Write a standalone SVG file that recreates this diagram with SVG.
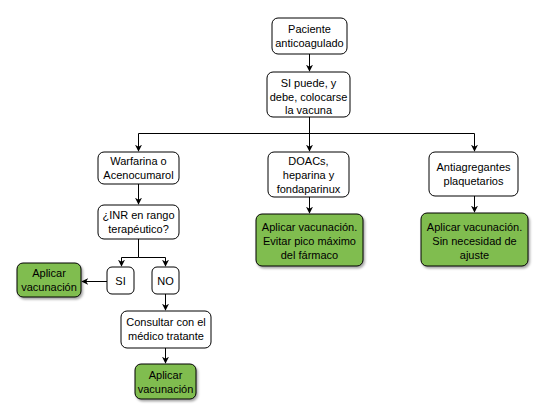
<svg xmlns="http://www.w3.org/2000/svg" width="555" height="407" viewBox="0 0 555 407">
<defs>
<marker id="ah" viewBox="0 0 10 10" refX="9" refY="5" markerWidth="7" markerHeight="7" markerUnits="userSpaceOnUse" orient="auto"><path d="M0,0 L10,5 L0,10 L3,5 Z" fill="#000"/></marker>
<filter id="sh" x="-10%" y="-10%" width="130%" height="140%"><feDropShadow dx="1.5" dy="2" stdDeviation="1" flood-color="#000" flood-opacity="0.35"/></filter>
</defs>
<style>
.n rect{fill:#fff;stroke:#000;stroke-width:1}
.g rect{fill:#80bd4f;stroke:#000;stroke-width:1;filter:url(#sh)}
text{font-family:"Liberation Sans",Arial,sans-serif;font-size:11px;fill:#000;text-anchor:middle}
.c path{fill:none;stroke:#000;stroke-width:1;marker-end:url(#ah)}
</style>
<rect width="555" height="407" fill="#fff"/>
<g class="c" id="connectors">
<path d="M309.5,54 V71"/>
<path d="M309.5,117 V151"/>
<path d="M309.5,133.5 H138.5 V151"/>
<path d="M309.5,133.5 H474.5 V151"/>
<path d="M138.5,184 V204"/>
<path d="M309.5,197 V213"/>
<path d="M474.5,196 V212"/>
<path d="M138.5,239 V257.5 H121.5 V266"/>
<path d="M138.5,257.5 H165.5 V266"/>
<path d="M107,281.5 H82"/>
<path d="M165.5,294 V310"/>
<path d="M165.5,348 V363"/>
</g>
<g id="n1" class="n"><rect x="272" y="18" width="75" height="36" rx="6"/><text x="309.5" y="33">Paciente</text><text x="309.5" y="47">anticoagulado</text></g>
<g id="n2" class="n"><rect x="267" y="72" width="83" height="45" rx="6"/><text x="308.5" y="87">SI puede, y</text><text x="308.5" y="101">debe, colocarse</text><text x="308.5" y="114">la vacuna</text></g>
<g id="n3" class="n"><rect x="98" y="152" width="81" height="32" rx="6"/><text x="138.5" y="165">Warfarina o</text><text x="138.5" y="179">Acenocumarol</text></g>
<g id="n4" class="n"><rect x="268" y="152" width="81" height="45" rx="6"/><text x="308.5" y="165">DOACs,</text><text x="308.5" y="179">heparina y</text><text x="308.5" y="193">fondaparinux</text></g>
<g id="n5" class="n"><rect x="429" y="152" width="89" height="44" rx="6"/><text x="473.5" y="171">Antiagregantes</text><text x="473.5" y="185">plaquetarios</text></g>
<g id="n6" class="n"><rect x="98" y="205" width="81" height="34" rx="6"/><text x="138.5" y="219">¿INR en rango</text><text x="138.5" y="233">terapéutico?</text></g>
<g id="n7" class="g"><rect x="256" y="214" width="107" height="52" rx="6"/><text x="309.5" y="231">Aplicar vacunación.</text><text x="309.5" y="245">Evitar pico máximo</text><text x="309.5" y="259">del fármaco</text></g>
<g id="n8" class="g"><rect x="421" y="213" width="107" height="53" rx="6"/><text x="474.5" y="231">Aplicar vacunación.</text><text x="474.5" y="245">Sin necesidad de</text><text x="474.5" y="259">ajuste</text></g>
<g id="n9" class="n"><rect x="107" y="267" width="27" height="27" rx="5"/><text x="120.5" y="285">SI</text></g>
<g id="n10" class="n"><rect x="152" y="267" width="27" height="27" rx="5"/><text x="165.5" y="285">NO</text></g>
<g id="n11" class="g"><rect x="17" y="263" width="64" height="34" rx="6"/><text x="49" y="277">Aplicar</text><text x="49" y="291">vacunación</text></g>
<g id="n12" class="n"><rect x="121" y="311" width="90" height="37" rx="6"/><text x="166" y="326">Consultar con el</text><text x="166" y="340">médico tratante</text></g>
<g id="n13" class="g"><rect x="135" y="364" width="61" height="35" rx="6"/><text x="165.5" y="379">Aplicar</text><text x="165.5" y="393">vacunación</text></g>
</svg>
